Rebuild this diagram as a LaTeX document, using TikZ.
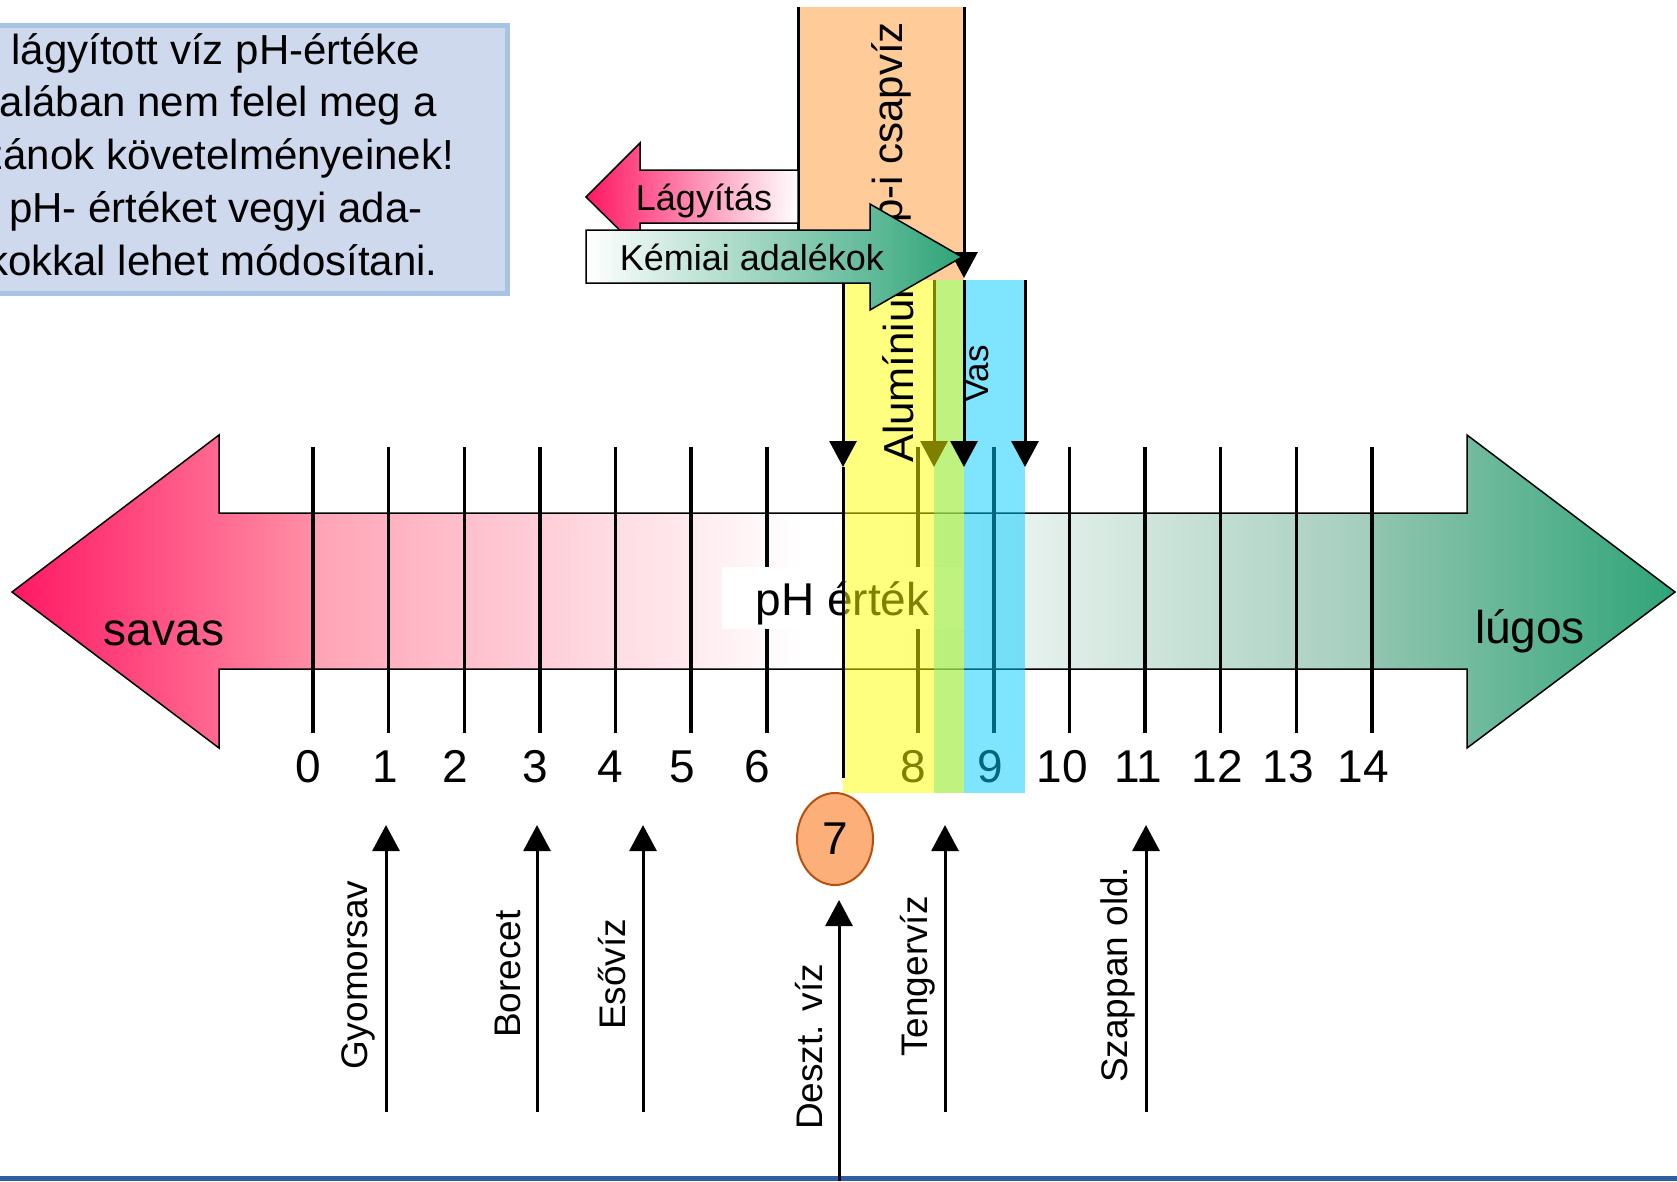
\documentclass[tikz,border=0pt]{standalone}
\usepackage{fontspec}
\setmainfont{Liberation Sans}
\usetikzlibrary{arrows.meta,shapes.geometric}
\definecolor{pinkA}{HTML}{FF1764}
\definecolor{pinkB}{HTML}{FF8FA5}
\definecolor{pinkC}{HTML}{FFA3B6}
\definecolor{greenA}{HTML}{2EA478}
\definecolor{greenB}{HTML}{92C5B0}
\definecolor{greenC}{HTML}{A3CDBC}
\definecolor{infofill}{HTML}{CFD9ED}
\definecolor{infoborder}{HTML}{A8C4E4}
\definecolor{tapfill}{HTML}{FFCC99}
\definecolor{bandcyan}{HTML}{00CCFF}
\definecolor{bandyellow}{HTML}{FFFF00}
\definecolor{circfill}{HTML}{FCAF78}
\definecolor{circdraw}{HTML}{B5500F}
\definecolor{baseblue}{HTML}{2E5EA6}
\tikzset{
  arr/.style={line width=3pt,-{Triangle[length=26pt,width=27pt]}},
  phtick/.style={line width=3.5pt},
  big/.style={font=\fontsize{46}{52}\selectfont},
  mid/.style={font=\fontsize{42}{50}\selectfont},
  small/.style={font=\fontsize{36}{42}\selectfont},
  num/.style={big,anchor=base,inner sep=0},
  vlabel/.style={rotate=90,anchor=base west,inner sep=0,font=\fontsize{37}{42}\selectfont},
  infotext/.style={mid,anchor=base,inner sep=0},
  outline/.style={draw=black,line width=1.5pt,line join=miter},
}
\begin{document}
\begin{tikzpicture}[x=1pt,y=-1pt]
\useasboundingbox (0,0) rectangle (1677,1181);
\clip (0,0) rectangle (1677,1181);

% info box
\node (infobox) [draw=infoborder,fill=infofill,line width=5pt,inner sep=0,
  minimum width=619.5pt,minimum height=268pt,anchor=north west] at (-115,22.5) {};
\node (info1) [infotext] at (196,64) {A lágyított víz pH-értéke};
\node (info2) [infotext] at (196,116.75) {általában nem felel meg a};
\node (info3) [infotext] at (196,169.5) {kazánok követelményeinek!};
\node (info4) [infotext] at (196,222.25) {A pH- értéket vegyi ada-};
\node (info5) [infotext] at (196,275) {lékokkal lehet módosítani.};

% main double arrow
\begin{scope}
\clip (12,592) -- (219,435) -- (219,513) -- (1467,513) -- (1467,435) -- (1675,592)
  -- (1467,748) -- (1467,669) -- (219,669) -- (219,748) -- cycle;
\shade[left color=pinkA,right color=pinkB] (10,430) rectangle (314,755);
\shade[left color=pinkC,right color=white] (313,430) rectangle (801,755);
\fill[white] (800,430) rectangle (901,755);
\shade[left color=white,right color=greenC] (900,430) rectangle (1373,755);
\shade[left color=greenB,right color=greenA] (1372,430) rectangle (1677,755);
\end{scope}
\draw[outline] (12,592) -- (219,435) -- (219,513) -- (1467,513) -- (1467,435) -- (1675,592)
  -- (1467,748) -- (1467,669) -- (219,669) -- (219,748) -- cycle;

% ticks and numbers
\foreach \k in {0,1,2,3,4,5,6,8,9,10,11,12,13,14}
  \draw[phtick] ({313+75.64*\k},447) -- ({313+75.64*\k},733);
\foreach \n/\x in {0/308,1/385,2/455,3/535,4/610,5/682,6/757,8/913,9/990,10/1062,11/1138,12/1217,13/1288,14/1363}
  \node (n\n) [num] at (\x,782) {\n};

\node (savas) [big,anchor=base,inner sep=0] at (164,645) {savas};
\node (lugos) [big,anchor=base,inner sep=0] at (1530,643) {lúgos};

% pH label box
\node (phbox) [fill=white,inner sep=0,minimum width=241pt,minimum height=62pt] at (842.5,598) {};
\node (phtext) [big,anchor=base,inner sep=0] at (842.5,615) {pH érték};

% tap water range
\fill[tapfill] (798,7) rectangle (964,280);
\draw[line width=3pt] (798,7) -- (798,275);
\coordinate (tapR1) at (964,7);
\coordinate (tapR2) at (964,278);
\draw[arr] (tapR1) -- (tapR2);
\node (tap) [mid,rotate=90,anchor=base east,inner sep=0] at (902,22) {Bp-i csapvíz};

% iron range (cyan)
\fill[bandcyan,opacity=0.5] (934,280) rectangle (1025,793);
\node (vas) [rotate=90,anchor=base west,inner sep=0,font=\fontsize{35}{40}\selectfont] at (988,403) {Vas};
\coordinate (fe1t) at (934,280);
\coordinate (fe1b) at (934,467);
\draw[arr] (fe1t) -- (fe1b);

% aluminium range (yellow)
\fill[bandyellow,opacity=0.5] (843,280) rectangle (964,793);
\coordinate (al1t) at (843,280);
\coordinate (al1b) at (843,467);
\coordinate (al1e) at (843,778);
\draw[arr] (al1t) -- (al1b);
\draw[line width=3pt] (al1b) -- (al1e);
\coordinate (al2t) at (964,280);
\coordinate (al2b) at (964,467);
\draw[arr] (al2t) -- (al2b);
\coordinate (fe2t) at (1025,280);
\coordinate (fe2b) at (1025,467);
\draw[arr] (fe2t) -- (fe2b);
\node (alu) [mid,rotate=90,anchor=base west,inner sep=0] at (913,463) {Alumínium};

% softening / additives arrows
\shadedraw[outline,left color=pinkA,right color=white]
  (586,197) -- (640,143) -- (640,170) -- (798,170) -- (798,223) -- (640,223) -- (640,250) -- cycle;
\node (lagy) [small,anchor=base,inner sep=0] at (704,210) {Lágyítás};
\shadedraw[outline,left color=white,right color=greenA]
  (586,230) -- (870,230) -- (870,204) -- (962,257) -- (870,310) -- (870,283) -- (586,283) -- cycle;
\node (kem) [small,anchor=base,inner sep=0] at (752,270) {Kémiai adalékok};

% bottom line
\fill[baseblue] (0,1176) rectangle (1677,1181);

% examples
\node (c7) [ellipse,draw=circdraw,fill=circfill,line width=2pt,inner sep=0,
  minimum width=76pt,minimum height=92pt,big] at (835,839) {7};
\foreach \nm/\x in {gyo/386,bor/537,eso/643,ten/945,sza/1146}{
  \coordinate (\nm b) at (\x,1112);
  \coordinate (\nm t) at (\x,825);
  \draw[arr] (\nm b) -- (\nm t);
}
\coordinate (deszb) at (839,1181);
\coordinate (deszt) at (839,900);
\draw[arr] (deszb) -- (deszt);

\node (lgyo) [vlabel] at (367,1070) {Gyomorsav};
\node (lbor) [vlabel] at (520,1038) {Borecet};
\node (leso) [vlabel] at (625,1030) {Esővíz};
\node (ldesz) [vlabel] at (822,1130) {Deszt. víz};
\node (lten) [vlabel] at (927,1057) {Tengervíz};
\node (lsza) [vlabel] at (1127,1083) {Szappan old.};
\end{tikzpicture}
\end{document}
